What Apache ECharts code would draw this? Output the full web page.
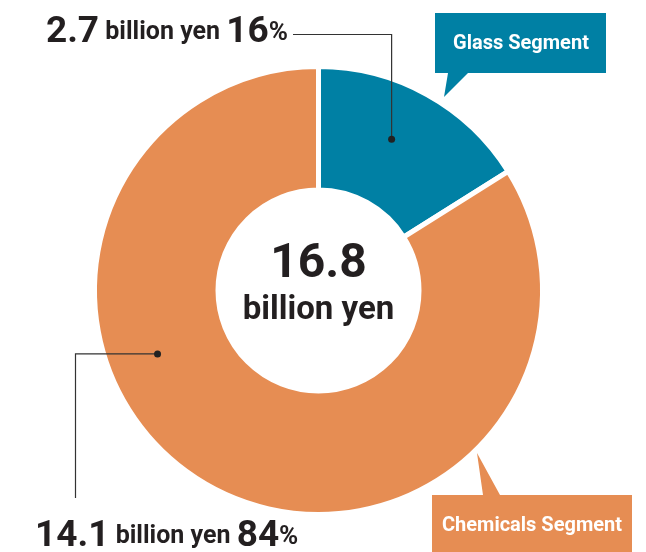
<!DOCTYPE html>
<html>
<head>
<meta charset="utf-8">
<script src="https://cdn.jsdelivr.net/npm/echarts@6/dist/echarts.min.js"></script>
<style>
html,body{margin:0;padding:0;background:#fff;}
#main{width:646px;height:552px;}
</style>
</head>
<body>
<div id="main"></div>
<script>
// ---- data ----
const categories = ['Glass Segment', 'Chemicals Segment'];
const values = [2.7, 14.1];
const shares = ['16', '84'];
const totalLabel = '16.8';
const unitLabel = 'billion yen';

// ---- styles ----
const segColors = ['#0080a4', '#e68d53'];
const textColor = '#231f20';
const lineColor = '#333333';
const FONT = 'Roboto, "Noto Sans", sans-serif';
const CX = 318.5, CY = 290.5;

const chart = echarts.init(document.getElementById('main'), null, {renderer: 'canvas'});

function polar(angleDegFromTop, r) {
  const a = angleDegFromTop * Math.PI / 180;
  return [CX + r * Math.sin(a), CY - r * Math.cos(a)];
}

const glassDot = polar(25.8, 168);
const chemDot = polar(248.5, 173);

function valueLabel(i) {
  return '{num|' + values[i] + '}{unit| ' + unitLabel + ' }{num|' + shares[i] + '}{pct|%}';
}
const richStyle = {
  num: {fontSize: 37, fontWeight: 'bold', fontFamily: FONT, fill: textColor, lineHeight: 40},
  unit: {fontSize: 25, fontWeight: 'bold', fontFamily: FONT, fill: textColor, lineHeight: 40},
  pct: {fontSize: 26, fontWeight: 'bold', fontFamily: FONT, fill: textColor, lineHeight: 40}
};

const option = {
  backgroundColor: '#fff',
  animation: false,
  series: [{
    type: 'pie',
    z: 1,
    center: [CX, CY],
    radius: [100.5, 224],
    startAngle: 90,
    clockwise: true,
    label: {show: false},
    labelLine: {show: false},
    emphasis: {disabled: true},
    itemStyle: {borderColor: '#fff', borderWidth: 5},
    data: categories.map((c, i) => ({name: c, value: values[i], itemStyle: {color: segColors[i]}}))
  }],
  graphic: {
    z: 100,
    elements: [
    // center total
    {type: 'text', z: 100, x: CX, y: 265, style: {text: totalLabel, fontSize: 48, fontWeight: 'bold', fontFamily: FONT, fill: textColor, textAlign: 'center', textVerticalAlign: 'middle'}},
    {type: 'text', z: 100, x: CX, y: 311, style: {text: unitLabel, fontSize: 33, fontWeight: 'bold', fontFamily: FONT, fill: textColor, textAlign: 'center', textVerticalAlign: 'middle'}},
    // glass leader
    {type: 'polyline', z: 100, shape: {points: [glassDot, [glassDot[0], 34.5], [293, 34.5]]}, style: {stroke: lineColor, lineWidth: 1.2, fill: null}},
    {type: 'circle', z: 101, shape: {cx: glassDot[0], cy: glassDot[1], r: 3.5}, style: {fill: '#222'}},
    // chemicals leader
    {type: 'polyline', z: 100, shape: {points: [chemDot, [75.5, chemDot[1]], [75.5, 498]]}, style: {stroke: lineColor, lineWidth: 1.2, fill: null}},
    {type: 'circle', z: 101, shape: {cx: chemDot[0], cy: chemDot[1], r: 3.5}, style: {fill: '#222'}},
    // value labels
    {type: 'text', z: 100, x: 288, y: 33, style: {text: valueLabel(0), rich: richStyle, textAlign: 'right', textVerticalAlign: 'middle'}},
    {type: 'text', z: 100, x: 35, y: 537, style: {text: valueLabel(1), rich: richStyle, textAlign: 'left', textVerticalAlign: 'middle'}},
    // glass callout
    {type: 'polygon', z: 100, shape: {points: [[435,13],[606,13],[606,73],[468,73],[444,97],[448,73],[435,73]]}, style: {fill: segColors[0]}},
    {type: 'text', z: 101, x: 521, y: 44, style: {text: categories[0], fontSize: 20, fontWeight: 'bold', fontFamily: FONT, fill: '#fff', textAlign: 'center', textVerticalAlign: 'middle'}},
    // chemicals callout
    {type: 'polygon', z: 100, shape: {points: [[432,495],[483,495],[477,453],[500,495],[632,495],[632,560],[432,560]]}, style: {fill: segColors[1]}},
    {type: 'text', z: 101, x: 532, y: 526, style: {text: categories[1], fontSize: 20, fontWeight: 'bold', fontFamily: FONT, fill: '#fff', textAlign: 'center', textVerticalAlign: 'middle'}}
    ]
  }
};
chart.setOption(option);
</script>
</body>
</html>
